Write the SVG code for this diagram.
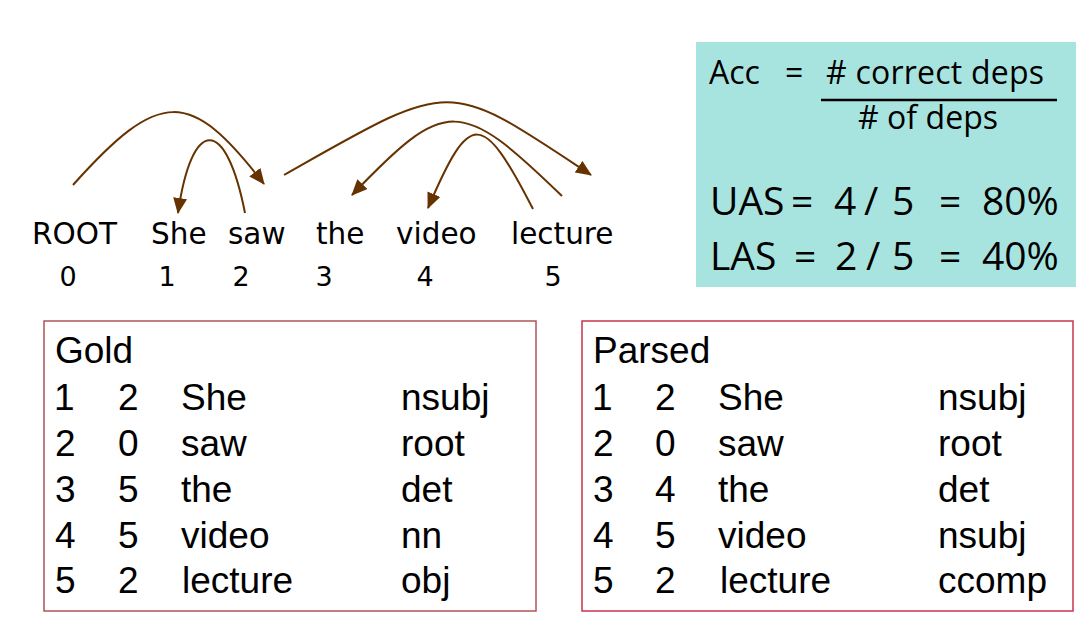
<svg xmlns="http://www.w3.org/2000/svg" width="1076" height="621" viewBox="0 0 1076 621">
<style>
.w{font-family:"DejaVu Sans",sans-serif;font-size:29.5px;fill:#000}
.n{font-family:"DejaVu Sans",sans-serif;font-size:27px;fill:#000;text-anchor:middle}
.m{font-family:"Open Sans",sans-serif;fill:#000}
.t{font-family:"Liberation Sans",Arial,sans-serif;font-size:37px;fill:#000}
.arc{fill:none;stroke:#663300;stroke-width:2;marker-end:url(#ah)}
</style>
<defs>
<marker id="ah" markerUnits="userSpaceOnUse" markerWidth="16" markerHeight="14" viewBox="0 0 16 14" refX="15" refY="7" orient="auto">
<path d="M0,0 L16,7 L0,14 z" fill="#663300"/>
</marker>
</defs>
<rect width="1076" height="621" fill="#fff"/>

<g id="sentence">
<text class="w" x="32" y="244">ROOT</text>
<text class="w" x="151" y="244">She</text>
<text class="w" x="228" y="244">saw</text>
<text class="w" x="316" y="244">the</text>
<text class="w" x="396" y="244">video</text>
<text class="w" x="511" y="244">lecture</text>
<text class="n" x="68" y="286">0</text>
<text class="n" x="167" y="286">1</text>
<text class="n" x="241" y="286">2</text>
<text class="n" x="324" y="286">3</text>
<text class="n" x="425" y="286">4</text>
<text class="n" x="553" y="286">5</text>
</g>

<g id="connectors">
<path class="arc" d="M73,185 C160,88 190,88 264,184"/>
<path class="arc" d="M245,213 C226,116 192,116 178,213"/>
<path class="arc" d="M284,175 C455,78 445,78 591,175"/>
<path class="arc" d="M562,196 C460,97 446,97 352,195"/>
<path class="arc" d="M533,209 C482,110 470,110 428,208"/>
</g>

<g id="metrics">
<rect x="696" y="42" width="380" height="245" fill="#a8e4df"/>
<text class="m" font-size="32" x="709" y="84">Acc</text>
<text class="m" font-size="32" x="785" y="84">=</text>
<text class="m" font-size="32" x="826" y="84" textLength="218">#&#160;correct deps</text>
<line x1="821" y1="100" x2="1057" y2="100" stroke="#000" stroke-width="2.5"/>
<text class="m" font-size="32" x="858" y="129" textLength="140"># of deps</text>
<text class="m" font-size="39" x="710" y="215">UAS</text>
<text class="m" font-size="39" x="791" y="215">=</text>
<text class="m" font-size="39" x="834" y="215">4</text>
<text class="m" font-size="39" x="864" y="215">/</text>
<text class="m" font-size="39" x="892" y="215">5</text>
<text class="m" font-size="39" x="939" y="215">=</text>
<text class="m" font-size="39" x="982" y="215">80%</text>
<text class="m" font-size="39" x="710" y="270">LAS</text>
<text class="m" font-size="39" x="794" y="270">=</text>
<text class="m" font-size="39" x="835" y="270">2</text>
<text class="m" font-size="39" x="866" y="270">/</text>
<text class="m" font-size="39" x="892" y="270">5</text>
<text class="m" font-size="39" x="939" y="270">=</text>
<text class="m" font-size="39" x="982" y="270">40%</text>
</g>

<g id="gold">
<rect x="44" y="321" width="492" height="290" fill="none" stroke="#b05458" stroke-width="1.5"/>
<text class="t" x="55" y="363">Gold</text>
<text class="t" x="54" y="410">1</text><text class="t" x="118" y="410">2</text><text class="t" x="181" y="410">She</text><text class="t" x="401" y="410">nsubj</text>
<text class="t" x="55" y="456">2</text><text class="t" x="118" y="456">0</text><text class="t" x="181" y="456">saw</text><text class="t" x="401" y="456">root</text>
<text class="t" x="55" y="502">3</text><text class="t" x="118" y="502">5</text><text class="t" x="181" y="502">the</text><text class="t" x="401" y="502">det</text>
<text class="t" x="55" y="548">4</text><text class="t" x="118" y="548">5</text><text class="t" x="181" y="548">video</text><text class="t" x="401" y="548">nn</text>
<text class="t" x="55" y="593">5</text><text class="t" x="118" y="593">2</text><text class="t" x="182" y="593">lecture</text><text class="t" x="401" y="593">obj</text>
</g>

<g id="parsed">
<rect x="582" y="321" width="491" height="290" fill="none" stroke="#c8344c" stroke-width="1.5"/>
<text class="t" x="593" y="363">Parsed</text>
<text class="t" x="592" y="410">1</text><text class="t" x="655" y="410">2</text><text class="t" x="718" y="410">She</text><text class="t" x="938" y="410">nsubj</text>
<text class="t" x="593" y="456">2</text><text class="t" x="655" y="456">0</text><text class="t" x="718" y="456">saw</text><text class="t" x="938" y="456">root</text>
<text class="t" x="593" y="502">3</text><text class="t" x="655" y="502">4</text><text class="t" x="718" y="502">the</text><text class="t" x="938" y="502">det</text>
<text class="t" x="593" y="548">4</text><text class="t" x="655" y="548">5</text><text class="t" x="718" y="548">video</text><text class="t" x="938" y="548">nsubj</text>
<text class="t" x="593" y="593">5</text><text class="t" x="655" y="593">2</text><text class="t" x="720" y="593">lecture</text><text class="t" x="938" y="593">ccomp</text>
</g>
</svg>
